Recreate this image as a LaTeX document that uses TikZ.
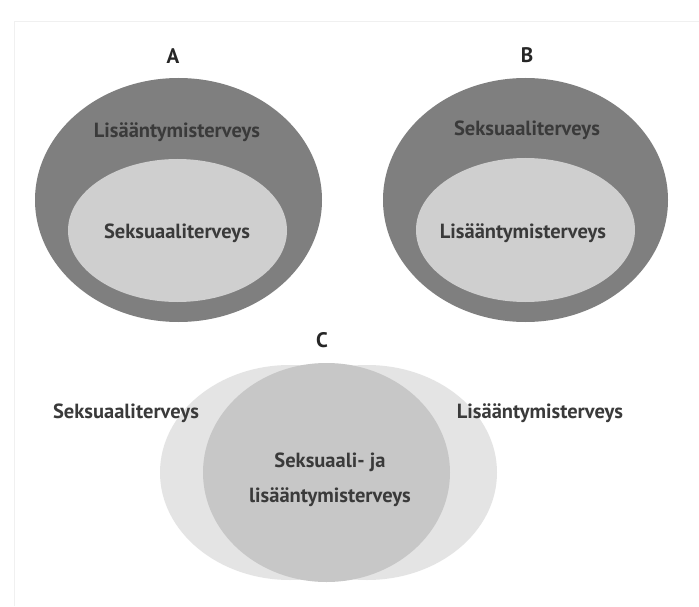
\documentclass[tikz,border=0pt]{standalone}
\usepackage{fontspec}
\setmainfont{PT Sans}
\usetikzlibrary{shapes.geometric}
\definecolor{outerdark}{HTML}{7F7F7F}
\definecolor{innerlight}{HTML}{CFCFCF}
\definecolor{vennlight}{HTML}{E4E4E4}
\definecolor{venndark}{HTML}{C7C7C7}
\definecolor{txt}{HTML}{3A3A3A}
\definecolor{framecol}{HTML}{F0F0F0}
\tikzset{
  blob/.style={ellipse, draw=none, inner sep=0pt},
  lbl/.style={text=txt, font=\bfseries\fontsize{20.5}{35}\selectfont, inner sep=0pt, align=center},
  head/.style={text=black!85, font=\bfseries\fontsize{21}{24}\selectfont, inner sep=0pt}
}
\begin{document}
\begin{tikzpicture}[x=1pt,y=-1pt]
\useasboundingbox[fill=white] (0,0) rectangle (699,607);
\draw[framecol, line width=1pt] (14,606) -- (14,22) -- (699,22);
% A
\node[head] (hA) at (173,56) {A};
\node[blob, fill=outerdark, minimum width=287pt, minimum height=244pt] (oA) at (178.5,200) {};
\node[blob, fill=innerlight, minimum width=219pt, minimum height=143pt] (iA) at (177.5,230.5) {};
\node[lbl] (tA1) at (177,132) {Lisääntymisterveys};
\node[lbl] (tA2) at (177,233) {Seksuaaliterveys};
% B
\node[head] (hB) at (527,55) {B};
\node[blob, fill=outerdark, minimum width=285pt, minimum height=244pt] (oB) at (525.5,200) {};
\node[blob, fill=innerlight, minimum width=219pt, minimum height=144pt] (iB) at (525.5,230) {};
\node[lbl] (tB1) at (527,130) {Seksuaaliterveys};
\node[lbl] (tB2) at (523,233) {Lisääntymisterveys};
% C
\node[head] (hC) at (322,340) {C};
\node[blob, fill=vennlight, minimum width=260pt, minimum height=215pt] (cL) at (290,472.5) {};
\node[blob, fill=vennlight, minimum width=260pt, minimum height=215pt] (cR) at (367,472.5) {};
\node[blob, fill=venndark, minimum width=247pt, minimum height=219pt] (cM) at (326.5,472.5) {};
\node[lbl] (tCL) at (126,413) {Seksuaaliterveys};
\node[lbl] (tCR) at (540,413) {Lisääntymisterveys};
\node[lbl] (tCM) at (330,479.5) {Seksuaali- ja\\lisääntymisterveys};
\end{tikzpicture}
\end{document}
